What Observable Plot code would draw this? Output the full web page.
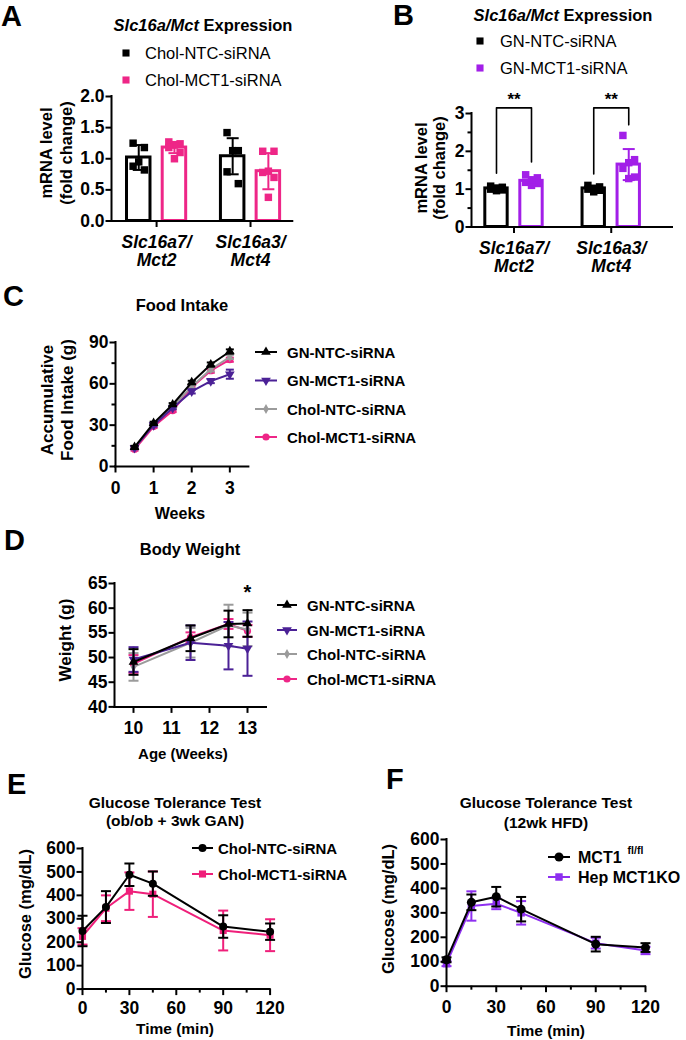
<!DOCTYPE html>
<html>
<head>
<meta charset="utf-8">
<script src="https://cdn.jsdelivr.net/npm/d3@7"></script>
<script src="https://cdn.jsdelivr.net/npm/@observablehq/plot@0.6"></script>
<style>
  html, body { margin: 0; padding: 0; background: #fff; }
  #root { position: relative; width: 686px; height: 1040px; overflow: hidden; background: #fff; }
</style>
</head>
<body>
<div id="root"></div>
<script>
// ================= DATA =================
// Panel A
const genes = ["Slc16a7/\nMct2", "Slc16a3/\nMct4"];
const aSeries = ["Chol-NTC-siRNA", "Chol-MCT1-siRNA"];
const aTicks = [0, 0.5, 1, 1.5, 2];
const aNtcMean = [1.02, 1.04];
const aNtcSd = [0.20, 0.29];
const aNtcPts = [[1.25, 1.18, 0.95, 0.88, 0.82], [1.42, 1.13, 1.13, 0.79, 0.60]];
const aMctMean = [1.18, 0.80];
const aMctSd = [0.09, 0.29];
const aMctPts = [[1.27, 1.24, 1.22, 1.18, 1.10, 1.00], [1.12, 1.12, 0.80, 0.78, 0.70, 0.38]];
// Panel B
const bSeries = ["GN-NTC-siRNA", "GN-MCT1-siRNA"];
const bTicks = [0, 1, 2, 3];
const bMinor = [0.5, 1.5, 2.5];
const bNtcMean = [1.02, 1.02];
const bNtcSd = [0.05, 0.07];
const bNtcPts = [[1.08, 1.05, 1.03, 1.00, 0.98, 0.96], [1.10, 1.06, 1.02, 1.00, 0.97, 0.93]];
const bMctMean = [1.22, 1.65];
const bMctSd = [0.10, 0.41];
const bMctPts = [[1.38, 1.30, 1.22, 1.18, 1.15, 1.10], [2.42, 1.78, 1.70, 1.55, 1.32, 1.28]];
const bSigLabel = ["**", "**"];
const bSigTop = [3.15, 3.15];
const bSigLeft = [1.42, 1.40];
const bSigRight = [1.72, 2.70];
// Panel C (Food intake)
const cSeries = ["GN-NTC-siRNA", "GN-MCT1-siRNA", "Chol-NTC-siRNA", "Chol-MCT1-siRNA"];
const cWeeks = [0.5, 1, 1.5, 2, 2.5, 3];
const cXTicks = [0, 1, 2, 3];
const cYTicks = [0, 30, 60, 90];
const cYMinor = [15, 45, 75];
const cGnNtc = [14, 31.5, 45, 61, 74, 83.5];
const cGnNtcSd = [1, 1, 1, 1.2, 1.5, 1.5];
const cGnMct = [13.5, 30, 42.5, 54.5, 62, 67];
const cGnMctSd = [1, 1, 1, 1.5, 1.5, 3.3];
const cCholNtc = [13.5, 30.5, 43.5, 58, 70.5, 79.5];
const cCholNtcSd = [1, 1, 1, 1.2, 1.5, 1.5];
const cCholMct = [12.5, 29, 40.5, 57.5, 69.5, 77.5];
const cCholMctSd = [1, 1, 1, 1.2, 1.5, 1.5];
// Panel D (Body weight)
const dAges = [10, 11.5, 12.5, 13];
const dXTicks = [10, 11, 12, 13];
const dYTicks = [40, 45, 50, 55, 60, 65];
const dGnNtc = [49.1, 53.9, 56.8, 56.9];
const dGnNtcSd = [2.6, 2.6, 2.7, 2.7];
const dGnMct = [49.6, 53.0, 52.4, 51.8];
const dGnMctSd = [2.5, 3.5, 4.8, 5.5];
const dCholNtc = [48.1, 53.0, 56.5, 55.7];
const dCholNtcSd = [2.8, 3.0, 4.2, 3.4];
const dCholMct = [48.7, 54.1, 56.8, 55.4];
const dCholMctSd = [1.8, 1.0, 1.0, 1.2];
const dSigAge = [13];
const dSigY = [63.1];
const dSigLabel = ["*"];
// Panel E (GTT ob/ob)
const eSeries = ["Chol-NTC-siRNA", "Chol-MCT1-siRNA"];
const gttTimes = [0, 15, 30, 45, 90, 120];
const gttXTicks = [0, 30, 60, 90, 120];
const gttXMinor = [15, 45, 75, 105];
const gttYTicks = [0, 100, 200, 300, 400, 500, 600];
const eNtc = [248, 350, 488, 450, 267, 245];
const eNtcSd = [65, 68, 48, 52, 48, 35];
const eMct = [225, 345, 418, 405, 250, 230];
const eMctSd = [35, 55, 80, 97, 85, 68];
// Panel F (GTT HFD)
const fSeries = ["MCT1", "Hep MCT1KO"];
const fFlox = [108, 343, 366, 315, 172, 158];
const fFloxSd = [10, 32, 40, 50, 30, 18];
const fKo = [92, 328, 337, 300, 176, 146];
const fKoSd = [10, 60, 22, 48, 22, 15];

// ================= STYLE =================
const root = document.getElementById("root");
const FONT = '"Liberation Sans", Arial, Helvetica, sans-serif';
const BLACK = "#000000", PINK = "#ee2687", PURPLE = "#a21fe8", INDIGO = "#4b2196", GRAY = "#9b9b9b", VIOLET = "#8e2ff0", EPINK = "#ef1f7a";
const TICK_FS = 17.5;
const intFmt = d => String(d);

const capSym = {draw(ctx, size) { const r = Math.sqrt(size / Math.PI); ctx.moveTo(-r, 0); ctx.lineTo(r, 0); }};
const triDown = {draw(ctx, size) {
  const s = Math.sqrt(size * 4 / Math.sqrt(3)), h = s * Math.sqrt(3) / 2;
  ctx.moveTo(0, h * 2 / 3); ctx.lineTo(s / 2, -h / 3); ctx.lineTo(-s / 2, -h / 3); ctx.closePath();
}};

function makePlot(b, marks) {
  const ml = 70, mr = 30, mt = 24, mb = 60;
  const svg = Plot.plot({
    width: b.x1 - b.x0 + ml + mr,
    height: b.y1 - b.y0 + mt + mb,
    marginLeft: ml, marginRight: mr, marginTop: mt, marginBottom: mb,
    style: {fontFamily: FONT, fontSize: TICK_FS + "px", fontWeight: "bold", background: "transparent", overflow: "visible", color: "black"},
    color: {type: "identity"},
    x: {domain: b.xDomain},
    y: {domain: b.yDomain},
    marks: marks.flat().filter(m => m != null)
  });
  svg.style.position = "absolute";
  svg.style.left = (b.x0 - ml) + "px";
  svg.style.top = (b.y0 - mt) + "px";
  svg.style.maxWidth = "none";
  root.appendChild(svg);
  const sel = d3.select(svg).selectAll('g[aria-label$="tick label"]');
  sel.style("font-size", TICK_FS + "px").style("font-weight", "bold").style("font-family", FONT);
  sel.selectAll("text").style("font-size", TICK_FS + "px").style("font-weight", "bold");
  return svg;
}

function axes(b) {
  return [
    Plot.axisY({ticks: b.yTicks, tickFormat: b.yFmt || intFmt, tickSize: 5.5, tickPadding: 1.5, strokeWidth: 2, fontSize: TICK_FS, fontWeight: "bold", label: null}),
    b.yMinor ? Plot.axisY({ticks: b.yMinor, tickSize: 3.5, strokeWidth: 2, fill: "none", label: null}) : null,
    Plot.axisX({ticks: b.xTicks, tickFormat: b.xFmt || intFmt, tickSize: 6.5, tickPadding: b.xPad, strokeWidth: 2, fontSize: TICK_FS, fontWeight: "bold", fontStyle: b.xItalic ? "italic" : "normal", lineHeight: 1.05, label: null}),
    b.xMinor ? Plot.axisX({ticks: b.xMinor, tickSize: 4, strokeWidth: 2, fill: "none", label: null}) : null,
    Plot.ruleY([b.yDomain[0]], {strokeWidth: 2, strokeLinecap: "square"}),
    Plot.ruleX([b.xDomain[0]], {strokeWidth: 2, strokeLinecap: "square"})
  ];
}

function jitter(k) { return [-1, 1, 0][k % 3] * 0.06; }

function barPanel(b, series, off, hw, extra) {
  const bars = [], pts = [];
  series.forEach((s, j) => {
    const dx = j === 0 ? -off : off;
    genes.forEach((g, i) => {
      bars.push({xc: i + dx, mean: s.mean[i], sd: s.sd[i], color: s.color});
      s.pts[i].forEach((v, k) => pts.push({xc: i + dx + jitter(k), v, color: s.color}));
    });
  });
  const svg = makePlot(b, [
    Plot.rect(bars, {x1: d => d.xc - hw, x2: d => d.xc + hw, y1: 0, y2: "mean", fill: "white", stroke: "color", strokeWidth: 3}),
    Plot.dot(pts, {x: "xc", y: "v", symbol: d3.symbolSquare, r: 4.2, fill: "color", stroke: "none"}),
    Plot.ruleX(bars, {x: "xc", y1: d => d.mean - d.sd, y2: d => d.mean + d.sd, stroke: "color", strokeWidth: 2}),
    Plot.dot(bars, {x: "xc", y: d => d.mean + d.sd, symbol: capSym, r: 6, fill: "none", stroke: "color", strokeWidth: 2}),
    Plot.dot(bars, {x: "xc", y: d => d.mean - d.sd, symbol: capSym, r: 6, fill: "none", stroke: "color", strokeWidth: 2}),
    extra || [],
    axes(b)
  ]);
  d3.select(svg).selectAll('g[aria-label="x-axis tick label"] text').style("font-style", "italic");
  return svg;
}

function linePanel(b, series, extra) {
  const marks = [];
  series.slice().reverse().forEach(s => {
    const rows = b.xs.map((x, i) => ({x, y: s.vals[i], lo: s.vals[i] - s.sd[i], hi: s.vals[i] + s.sd[i]}));
    marks.push(
      Plot.ruleX(rows, {x: "x", y1: "lo", y2: "hi", stroke: s.color, strokeWidth: 2}),
      Plot.dot(rows, {x: "x", y: "hi", symbol: capSym, r: b.cap || 5, fill: "none", stroke: s.color, strokeWidth: 2}),
      Plot.dot(rows, {x: "x", y: "lo", symbol: capSym, r: b.cap || 5, fill: "none", stroke: s.color, strokeWidth: 2}),
      Plot.line(rows, {x: "x", y: "y", stroke: s.color, strokeWidth: 2}),
      Plot.dot(rows, {x: "x", y: "y", symbol: s.symbol, r: s.r, fill: s.color, stroke: "none"})
    );
  });
  return makePlot(b, [marks, extra || [], axes(b)]);
}

// ================= PANELS =================
// A
barPanel({x0: 111, x1: 292.3, y0: 96, y1: 220.5, xDomain: [-0.48, 1.45], yDomain: [0, 2],
  yTicks: aTicks, yFmt: ".1f", xTicks: [0, 1], xFmt: i => genes[i], xItalic: true, xPad: 7},
  [{mean: aNtcMean, sd: aNtcSd, pts: aNtcPts, color: BLACK},
   {mean: aMctMean, sd: aMctSd, pts: aMctPts, color: PINK}], 0.19, 0.125);

// B
const bOff = 0.18;
const bracketRows = [];
genes.forEach((g, i) => {
  bracketRows.push({b: i, x: i - bOff, y: bSigLeft[i]}, {b: i, x: i - bOff, y: bSigTop[i]},
                   {b: i, x: i + bOff, y: bSigTop[i]}, {b: i, x: i + bOff, y: bSigRight[i]});
});
const sigRows = genes.map((g, i) => ({x: i, y: bSigTop[i], label: bSigLabel[i]}));
barPanel({x0: 471, x1: 672, y0: 112.5, y1: 226, xDomain: [-0.437, 1.63], yDomain: [0, 3],
  yTicks: bTicks, yMinor: bMinor, xTicks: [0, 1], xFmt: i => genes[i], xItalic: true, xPad: 7},
  [{mean: bNtcMean, sd: bNtcSd, pts: bNtcPts, color: BLACK},
   {mean: bMctMean, sd: bMctSd, pts: bMctPts, color: PURPLE}], bOff, 0.115,
  [Plot.line(bracketRows, {x: "x", y: "y", z: "b", stroke: BLACK, strokeWidth: 1.6}),
   Plot.text(sigRows, {x: "x", y: "y", text: "label", dy: -8, fontSize: 17, fontWeight: "bold"})]);

// C
linePanel({x0: 115, x1: 248.4, y0: 341.7, y1: 465.7, xDomain: [0, 3.5], yDomain: [0, 90],
  xs: cWeeks, xTicks: cXTicks, yTicks: cYTicks, yMinor: cYMinor, cap: 4, xPad: 8},
  [{vals: cGnNtc, sd: cGnNtcSd, color: BLACK, symbol: d3.symbolTriangle, r: 3.6},
   {vals: cGnMct, sd: cGnMctSd, color: INDIGO, symbol: triDown, r: 3.6},
   {vals: cCholNtc, sd: cCholNtcSd, color: GRAY, symbol: d3.symbolDiamond, r: 3},
   {vals: cCholMct, sd: cCholMctSd, color: PINK, symbol: d3.symbolCircle, r: 3.6}]);

// D
const dSigRows = dSigAge.map((a, i) => ({x: a, y: dSigY[i], label: dSigLabel[i]}));
linePanel({x0: 113.7, x1: 265.7, y0: 583.3, y1: 706.7, xDomain: [9.5, 13.5], yDomain: [40, 65],
  xs: dAges, xTicks: dXTicks, yTicks: dYTicks, cap: 5, xPad: 8},
  [{vals: dGnNtc, sd: dGnNtcSd, color: BLACK, symbol: d3.symbolTriangle, r: 3.6},
   {vals: dGnMct, sd: dGnMctSd, color: INDIGO, symbol: triDown, r: 3.6},
   {vals: dCholNtc, sd: dCholNtcSd, color: GRAY, symbol: d3.symbolDiamond, r: 3},
   {vals: dCholMct, sd: dCholMctSd, color: PINK, symbol: d3.symbolCircle, r: 3.6}],
  [Plot.text(dSigRows, {x: "x", y: "y", text: "label", fontSize: 20, fontWeight: "bold"})]);

// E
linePanel({x0: 81.7, x1: 269.3, y0: 847.7, y1: 988.3, xDomain: [0, 120], yDomain: [0, 600],
  xs: gttTimes, xTicks: gttXTicks, xMinor: gttXMinor, yTicks: gttYTicks, cap: 5, xPad: 5},
  [{vals: eNtc, sd: eNtcSd, color: BLACK, symbol: d3.symbolCircle, r: 4},
   {vals: eMct, sd: eMctSd, color: EPINK, symbol: d3.symbolSquare, r: 4}]);

// F
linePanel({x0: 446.3, x1: 645.3, y0: 839, y1: 985.7, xDomain: [0, 120], yDomain: [0, 600],
  xs: gttTimes, xTicks: gttXTicks, xMinor: gttXMinor, yTicks: gttYTicks, cap: 5, xPad: 7},
  [{vals: fFlox, sd: fFloxSd, color: BLACK, symbol: d3.symbolCircle, r: 4.5},
   {vals: fKo, sd: fKoSd, color: VIOLET, symbol: d3.symbolSquare, r: 4.2}]);

// ================= TEXT OVERLAY (titles, legends, axis titles) =================
const ov = d3.select(root).append("svg").attr("width", 686).attr("height", 1040)
  .style("position", "absolute").style("left", "0px").style("top", "0px").style("overflow", "visible")
  .attr("font-family", FONT);

function T(x, y, str, size, opt = {}) {
  const t = ov.append("text").attr("x", x).attr("y", y).attr("font-size", size)
    .attr("font-weight", opt.weight || "bold").attr("text-anchor", opt.anchor || "middle")
    .attr("dominant-baseline", "central").attr("fill", "#000");
  if (opt.rotate) t.attr("transform", `rotate(${opt.rotate},${x},${y})`);
  if (opt.italic) t.attr("font-style", "italic");
  if (str != null) t.text(str);
  return t;
}
function symPath(x, y, sym, r, color) {
  ov.append("path").attr("transform", `translate(${x},${y})`)
    .attr("d", d3.symbol().type(sym).size(Math.PI * r * r)()).attr("fill", color);
}
function legendRow(x1, x2, y, color, sym, r, tx, label, size, weight) {
  if (x2 > x1) ov.append("line").attr("x1", x1).attr("x2", x2).attr("y1", y).attr("y2", y)
    .attr("stroke", color).attr("stroke-width", 2);
  symPath((x1 + x2) / 2, y, sym, r, color);
  return T(tx, y, label, size, {anchor: "start", weight});
}
function mixedTitle(x, y, ital, rest, size) {
  const t = T(x, y, null, size);
  t.append("tspan").attr("font-style", "italic").text(ital);
  t.append("tspan").text(rest);
}

// panel letters
[["A", 1, 16], ["B", 393, 15], ["C", 3, 296], ["D", 4, 540], ["E", 7, 784], ["F", 386, 779]]
  .forEach(([l, x, y]) => T(x, y, l, 29, {anchor: "start"}));

// A
mixedTitle(203, 25, "Slc16a/Mct", " Expression", 16.5);
legendRow(126, 126, 53, BLACK, d3.symbolSquare, 4, 145, aSeries[0], 16.5, "normal");
legendRow(126, 126, 80, PINK, d3.symbolSquare, 4, 145, aSeries[1], 16.5, "normal");
T(46, 153, "mRNA level", 16.5, {rotate: -90});
T(66, 153, "(fold change)", 16.5, {rotate: -90});

// B
mixedTitle(563, 15, "Slc16a/Mct", " Expression", 16.5);
legendRow(480, 480, 41, BLACK, d3.symbolSquare, 4, 500, bSeries[0], 16.5, "normal");
legendRow(480, 480, 68, PURPLE, d3.symbolSquare, 4, 500, bSeries[1], 16.5, "normal");
T(421, 168, "mRNA level", 16.5, {rotate: -90});
T(439, 168, "(fold change)", 16.5, {rotate: -90});

// C
T(182, 305, "Food Intake", 16.5);
T(47, 400, "Accumulative", 17, {rotate: -90});
T(67, 400, "Food Intake (g)", 17, {rotate: -90});
T(180, 513, "Weeks", 16);
const lgSyms = [[BLACK, d3.symbolTriangle, 3.6], [INDIGO, triDown, 3.6], [GRAY, d3.symbolDiamond, 3], [PINK, d3.symbolCircle, 3.6]];
[352, 380.5, 409, 437].forEach((y, i) => legendRow(255, 277, y, lgSyms[i][0], lgSyms[i][1], lgSyms[i][2], 287, cSeries[i], 15, "bold"));

// D
T(190, 549, "Body Weight", 16.5);
T(65, 640, "Weight (g)", 17, {rotate: -90});
T(183, 753, "Age (Weeks)", 15);
[605, 630, 654, 679].forEach((y, i) => legendRow(277, 297, y, lgSyms[i][0], lgSyms[i][1], lgSyms[i][2], 307, cSeries[i], 15, "bold"));

// E
T(175, 802, "Glucose Tolerance Test", 15.5);
T(175, 820, "(ob/ob + 3wk GAN)", 15.5);
T(25, 914, "Glucose (mg/dL)", 16.5, {rotate: -90});
T(175, 1028, "Time (min)", 15.5);
legendRow(192, 213, 848, BLACK, d3.symbolCircle, 4, 218, eSeries[0], 15, "bold");
legendRow(192, 213, 874, EPINK, d3.symbolSquare, 4, 218, eSeries[1], 15, "bold");

// F
T(546, 802, "Glucose Tolerance Test", 15.5);
T(546, 822, "(12wk HFD)", 15.5);
T(388, 909, "Glucose (mg/dL)", 16.5, {rotate: -90});
T(546, 1030, "Time (min)", 15.5);
const fl = legendRow(548, 570, 857, BLACK, d3.symbolCircle, 4.5, 578, fSeries[0], 16, "bold");
fl.append("tspan").attr("dx", 6).attr("dy", -7).attr("font-size", 10.5).text("fl/fl");
legendRow(548, 570, 877, VIOLET, d3.symbolSquare, 4.2, 578, fSeries[1], 16, "bold");
</script>
</body>
</html>
